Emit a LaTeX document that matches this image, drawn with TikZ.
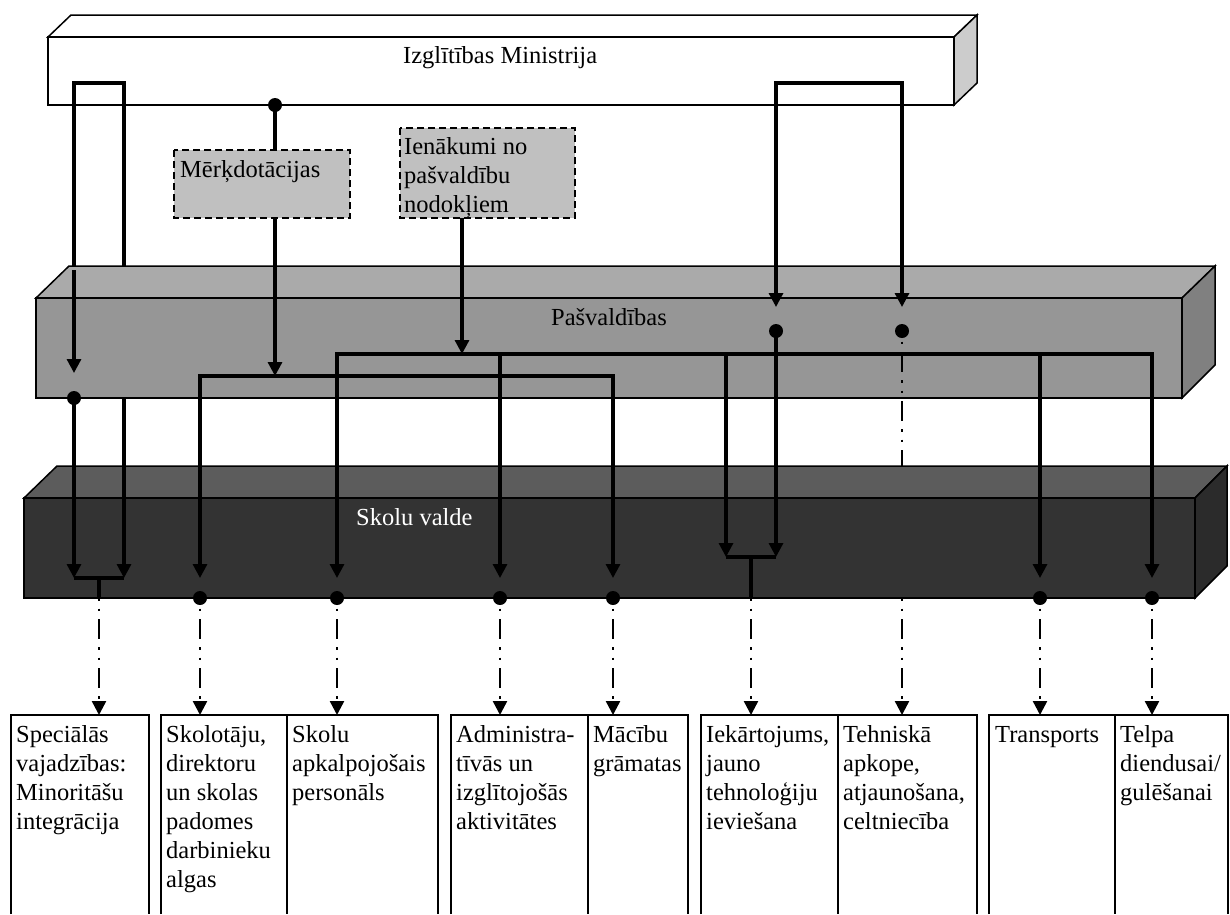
\documentclass[tikz,border=0pt]{standalone}
\usepackage{fontspec}
\setmainfont{Liberation Serif}
\usetikzlibrary{arrows.meta}
\definecolor{minside}{HTML}{CCCCCC}
\definecolor{pastop}{HTML}{AAAAAA}
\definecolor{pasfront}{HTML}{969696}
\definecolor{passide}{HTML}{808080}
\definecolor{skotop}{HTML}{5C5C5C}
\definecolor{skofront}{HTML}{333333}
\definecolor{skoside}{HTML}{2B2B2B}
\definecolor{srcfill}{HTML}{C0C0C0}
\begin{document}
\begin{tikzpicture}[x=1pt,y=-1pt,
  tip/.style={-{Triangle[width=14pt,length=14pt]}},
  twotip/.style={{Triangle[width=14pt,length=14pt]}-{Triangle[width=14pt,length=14pt]}},
  solidline/.style={line width=3.2pt, line join=miter},
  dashdot/.style={line width=2.4pt, dash pattern=on 20pt off 8pt on 2.5pt off 8pt on 2.5pt off 8pt, dash phase=28pt},
  facet/.style={draw=black, line width=1.5pt, line join=miter},
  lbl/.style={font=\fontsize{24.5}{29}\selectfont, inner sep=0pt},
  boxtext/.style={lbl, anchor=north west, align=left},
  srcbox/.style={draw=black, line width=1.5pt, dash pattern=on 7pt off 4pt, fill=srcfill},
  dot/.style={circle, fill=black, inner sep=0pt, minimum size=14pt},
  target/.style={draw=black, line width=1.6pt},
]
\useasboundingbox (0,0) rectangle (1230,914);

% ---------- Izglitibas Ministrija box ----------
\draw[facet, fill=white] (48,37) -- (71,15) -- (977,15) -- (954,37) -- cycle;
\draw[facet, fill=white] (48,37) rectangle (954,105);
\draw[facet, fill=minside] (954,37) -- (977,15) -- (977,83) -- (954,105) -- cycle;
\node[lbl, anchor=base west] (minT) at (403,63) {Izglītības Ministrija};

% coordinates
\coordinate (uL) at (74,83);   \coordinate (uR) at (124,83);
\coordinate (vL) at (776,83);  \coordinate (vR) at (902,83);
\coordinate (mDot) at (275,105);

% part of left loop that passes behind Pasvaldibas
\draw[solidline] (124,290) -- (uR) -- (uL) -- (74,280);

% ---------- Pasvaldibas box ----------
\draw[facet, fill=pastop] (36,298) -- (69,266) -- (1215,266) -- (1182,298) -- cycle;
\draw[facet, fill=pasfront] (36,298) rectangle (1182,398);
\draw[facet, fill=passide] (1182,298) -- (1215,266) -- (1215,365) -- (1182,398) -- cycle;
\node[lbl, anchor=base west] (pasT) at (551,325) {Pašvaldības};

\coordinate (tDotA) at (776,331);
\coordinate (tDotB) at (902,331);
\coordinate (tBelow) at (902,600);
% dash-dot line passing behind Skolu valde
\draw[dashdot] (tDotB) -- (tBelow);

% ---------- Skolu valde box ----------
\draw[facet, fill=skotop] (24,498) -- (57,466) -- (1227,466) -- (1195,498) -- cycle;
\draw[facet, fill=skofront] (24,498) rectangle (1195,598);
\draw[facet, fill=skoside] (1195,498) -- (1227,466) -- (1227,566) -- (1195,598) -- cycle;
\node[lbl, anchor=base west, text=white] (skoT) at (356,525) {Skolu valde};

% ---------- source boxes ----------
\draw[srcbox] (174,150) rectangle (350,218);
\node[lbl, anchor=base west] (merk) at (180,177) {Mērķdotācijas};
\draw[srcbox] (400,128) rectangle (575,218);
\node[boxtext] (ien) at (404,133.7) {\strut Ienākumi no\\pašvaldību\\nodokļiem};
\coordinate (merkTop) at (275,150);  \coordinate (merkBot) at (275,218);
\coordinate (ienBot) at (462,218);

% ---------- connectors ----------
% left loop
\draw[solidline, tip] (74,270) -- (74,373);
\node[dot] (dL) at (74,398) {};
\draw[solidline, tip] (dL.center) -- (74,578);
\draw[solidline, tip] (124,398) -- (124,578);
\draw[solidline] (74,578) -- (124,578);
\coordinate (brL) at (99,578);
\coordinate (brLb) at (99,598);
\draw[solidline] (brL) -- (brLb);

% Merkdotacijas
\node[dot] (dM) at (mDot) {};
\draw[solidline] (dM.center) -- (merkTop);
\draw[solidline, tip] (merkBot) -- (275,376);
\draw[solidline, twotip] (200,578) -- (200,376) -- (613,376) -- (613,578);

% Ienakumi
\draw[solidline, tip] (ienBot) -- (462,354);
\draw[solidline, twotip] (337,578) -- (337,354) -- (1152,354) -- (1152,578);
\draw[solidline, tip] (500,354) -- (500,578);
\draw[solidline, tip] (726,354) -- (726,557);
\draw[solidline, tip] (1040,354) -- (1040,578);

% right loop
\draw[solidline, twotip] (776,307) -- (vL) -- (vR) -- (902,307);
\node[dot] (dA) at (tDotA) {};
\node[dot] (dB) at (tDotB) {};
\draw[solidline, tip] (dA.center) -- (776,557);
\draw[solidline] (726,557) -- (776,557);
\coordinate (brR) at (751,557);
\coordinate (brRb) at (751,598);
\draw[solidline] (brR) -- (brRb);

% dots on Skolu valde
\foreach \x/\n in {200/a,337/b,500/c,613/d,1040/e,1152/f}{
  \node[dot] (s\n) at (\x,598) {};
}

% ---------- target boxes ----------
\draw[target] (11,914) -- (11,715) -- (149,715) -- (149,914);
\draw[target] (161,914) -- (161,715) -- (438,715) -- (438,914);
\draw[target] (287,715) -- (287,914);
\draw[target] (451,914) -- (451,715) -- (688,715) -- (688,914);
\draw[target] (588,715) -- (588,914);
\draw[target] (701,914) -- (701,715) -- (977,715) -- (977,914);
\draw[target] (838,715) -- (838,914);
\draw[target] (989,914) -- (989,715) -- (1228,715) -- (1228,914);
\draw[target] (1115,715) -- (1115,914);

\coordinate (t1) at (99,715);   \coordinate (t2) at (200,715);
\coordinate (t3) at (337,715);  \coordinate (t4) at (500,715);
\coordinate (t5) at (613,715);  \coordinate (t6) at (751,715);
\coordinate (t7) at (902,715);  \coordinate (t8) at (1040,715);
\coordinate (t9) at (1152,715);

\draw[dashdot, tip] (brLb) -- (t1);
\draw[dashdot, tip] (sa.center) -- (t2);
\draw[dashdot, tip] (sb.center) -- (t3);
\draw[dashdot, tip] (sc.center) -- (t4);
\draw[dashdot, tip] (sd.center) -- (t5);
\draw[dashdot, tip] (brRb) -- (t6);
\draw[dashdot, tip] (902,598) -- (t7);
\draw[dashdot, tip] (se.center) -- (t8);
\draw[dashdot, tip] (sf.center) -- (t9);

% texts in target boxes
\node[boxtext] (x1) at (16,721.7) {\strut Speciālās\\vajadzības:\\Minoritāšu\\integrācija};
\node[boxtext] (x2) at (166,721.7) {\strut Skolotāju,\\direktoru\\un skolas\\padomes\\darbinieku\\algas};
\node[boxtext] (x3) at (292,721.7) {\strut Skolu\\apkalpojošais\\personāls};
\node[boxtext] (x4) at (456,721.7) {\strut Administra-\\tīvās un\\izglītojošās\\aktivitātes};
\node[boxtext] (x5) at (593,721.7) {\strut Mācību\\grāmatas};
\node[boxtext] (x6) at (706,721.7) {\strut Iekārtojums,\\jauno\\tehnoloģiju\\ieviešana};
\node[boxtext] (x7) at (843,721.7) {\strut Tehniskā\\apkope,\\atjaunošana,\\celtniecība};
\node[boxtext] (x8) at (995,721.7) {\strut Transports};
\node[boxtext] (x9) at (1120,721.7) {\strut Telpa\\diendusai/\\gulēšanai};
\end{tikzpicture}
\end{document}
